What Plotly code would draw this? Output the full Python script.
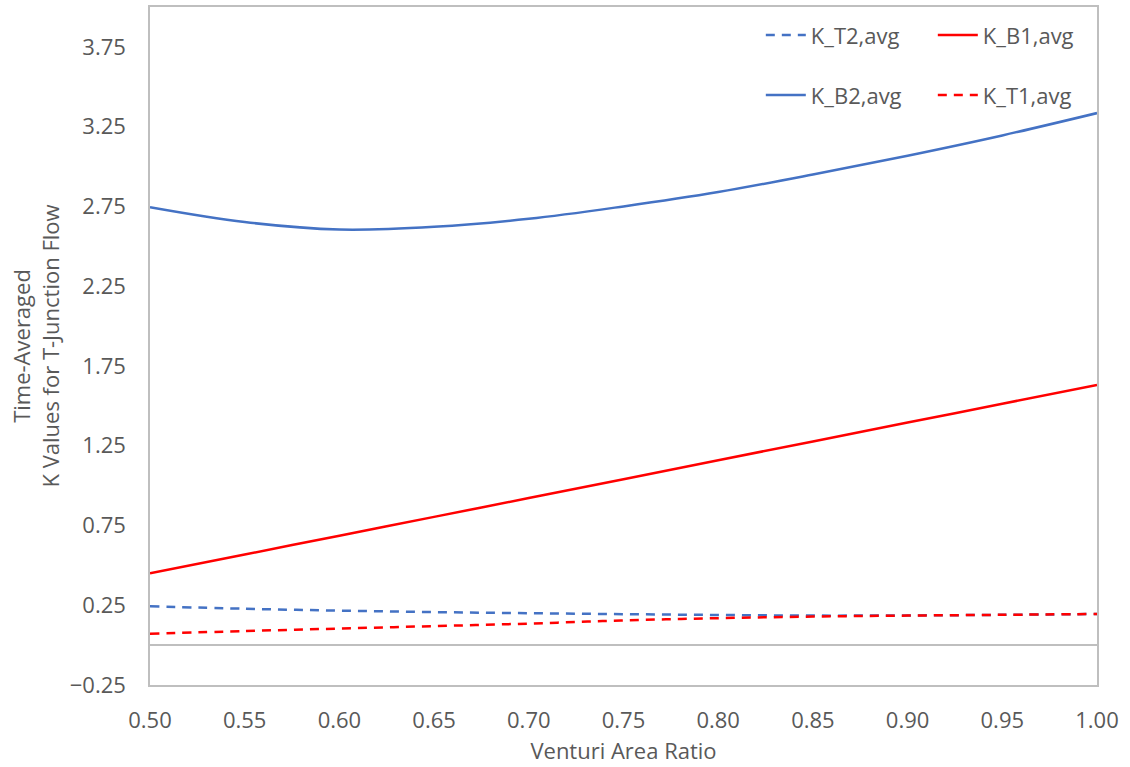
import plotly.graph_objects as go

# Venturi area ratio samples
area_ratio = [0.50, 0.55, 0.60, 0.65, 0.70, 0.75, 0.80, 0.85, 0.90, 0.95, 1.00]

# Time-averaged loss coefficients
k_t2_avg = [0.243, 0.228, 0.216, 0.207, 0.200, 0.194, 0.189, 0.185, 0.186, 0.190, 0.195]
k_b1_avg = [0.450, 0.568, 0.686, 0.804, 0.922, 1.040, 1.159, 1.277, 1.395, 1.513, 1.631]
k_b2_avg = [2.745, 2.652, 2.605, 2.622, 2.672, 2.750, 2.840, 2.950, 3.068, 3.195, 3.335]
k_t1_avg = [0.072, 0.088, 0.104, 0.119, 0.135, 0.155, 0.169, 0.179, 0.185, 0.190, 0.195]

y_ticks = [-0.25, 0.25, 0.75, 1.25, 1.75, 2.25, 2.75, 3.25, 3.75]

BLUE = "#4472C4"
RED = "#FF0000"
GREY_TEXT = "#595959"
GREY_LINE = "#BFBFBF"
FONT = "Open Sans"
FS = 22
DASH = "9px,7px"

fig = go.Figure()
fig.add_trace(go.Scatter(x=area_ratio, y=k_t2_avg, name="K_T2,avg", mode="lines",
                         line=dict(color=BLUE, width=2.5, dash=DASH, shape="spline"),
                         legend="legend"))
fig.add_trace(go.Scatter(x=area_ratio, y=k_b1_avg, name="K_B1,avg", mode="lines",
                         line=dict(color=RED, width=2.5, shape="spline"),
                         legend="legend"))
fig.add_trace(go.Scatter(x=area_ratio, y=k_b2_avg, name="K_B2,avg", mode="lines",
                         line=dict(color=BLUE, width=2.5, shape="spline"),
                         legend="legend2"))
fig.add_trace(go.Scatter(x=area_ratio, y=k_t1_avg, name="K_T1,avg", mode="lines",
                         line=dict(color=RED, width=2.5, dash=DASH, shape="spline"),
                         legend="legend2"))

legend_common = dict(orientation="h", xanchor="left", yanchor="middle",
                     font=dict(family=FONT, size=FS, color=GREY_TEXT),
                     bgcolor="rgba(0,0,0,0)", itemwidth=40,
                     entrywidth=117, entrywidthmode="pixels",
                     traceorder="normal", itemclick=False)

fig.update_layout(
    width=1130, height=767,
    margin=dict(l=150, r=33, t=7, b=82),
    paper_bgcolor="white", plot_bgcolor="white",
    font=dict(family=FONT, size=FS, color=GREY_TEXT),
    legend=dict(x=0.645, y=0.9585, **legend_common),
    legend2=dict(x=0.645, y=0.870, **legend_common),
    xaxis=dict(
        range=[0.5, 1.0], dtick=0.05, tick0=0.5, tickformat=".2f",
        showgrid=False, zeroline=False, automargin=False,
        showline=True, linecolor=GREY_LINE, linewidth=1.5, mirror=True,
        ticks="", ticklabelstandoff=15,
        tickfont=dict(family=FONT, size=FS, color=GREY_TEXT),
        title=dict(text="Venturi Area Ratio", standoff=10,
                   font=dict(family=FONT, size=FS, color=GREY_TEXT)),
    ),
    yaxis=dict(
        range=[-0.25, 4.0], tickvals=y_ticks, tickformat=".2f",
        showgrid=False, automargin=False,
        zeroline=True, zerolinecolor=GREY_LINE, zerolinewidth=1.5,
        showline=True, linecolor=GREY_LINE, linewidth=1.5, mirror=True,
        ticks="", ticklabelstandoff=18,
        tickfont=dict(family=FONT, size=FS, color=GREY_TEXT),
        title=dict(text="Time-Averaged<br>K Values for T-Junction Flow", standoff=4,
                   font=dict(family=FONT, size=FS, color=GREY_TEXT)),
    ),
)

fig.write_html("out.html")
